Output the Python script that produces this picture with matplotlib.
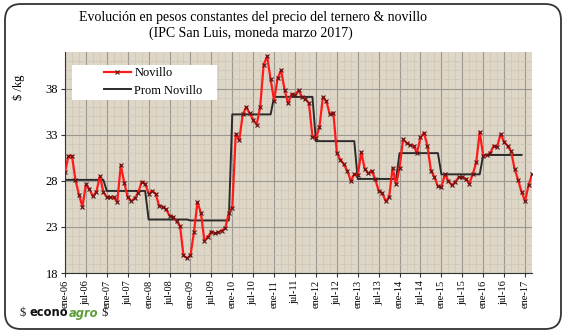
import numpy as np
import matplotlib
matplotlib.use("Agg")
import matplotlib.pyplot as plt
from matplotlib.patches import FancyBboxPatch, Rectangle

# precio mensual del novillo ($/kg, moneda marzo 2017), ene-06 .. mar-17
novillo = [28.9, 30.7, 30.7, 28.1, 26.5, 25.2, 27.6, 27.1, 26.3, 26.8, 28.5, 26.8,
           26.2, 26.2, 26.2, 25.7, 29.7, 27.8, 26.2, 25.8, 26.1, 26.7, 27.9, 27.7,
           26.6, 26.9, 26.6, 25.3, 25.2, 24.9, 24.2, 24.1, 23.6, 23.1, 19.9, 19.6,
           19.9, 22.4, 25.7, 24.5, 21.5, 21.9, 22.5, 22.3, 22.4, 22.6, 22.9, 24.5,
           25.1, 33.1, 32.4, 35.2, 36.0, 35.3, 34.6, 34.1, 36.0, 40.6, 41.5, 39.0,
           36.7, 39.1, 40.0, 37.9, 36.4, 37.4, 37.3, 37.8, 37.1, 36.9, 36.4, 32.8,
           32.6, 33.8, 37.1, 36.6, 35.2, 35.4, 31.0, 30.3, 29.8, 29.1, 28.0, 28.7,
           28.6, 31.1, 29.3, 28.8, 29.1, 28.2, 26.9, 26.7, 25.8, 26.2, 29.4, 27.6,
           29.4, 32.5, 32.1, 31.9, 31.8, 31.0, 32.7, 33.2, 31.8, 29.1, 28.4, 27.4,
           27.3, 28.7, 28.0, 27.5, 27.9, 28.4, 28.4, 28.2, 27.7, 28.7, 30.0, 33.3,
           30.7, 30.8, 31.0, 31.8, 31.7, 33.1, 32.2, 31.8, 31.2, 29.3, 28.1, 26.8,
           25.8, 27.5, 28.7]

# promedio anual 2006..2016
prom_anual = [28.1, 26.9, 23.8, 23.7, 35.2, 37.1, 32.3, 28.2, 31.0, 28.7, 30.8]

anios = list(range(6, 18))
etiquetas = []
for a in anios:
    etiquetas += [f"ene-{a:02d}", f"jul-{a:02d}"]
etiquetas = etiquetas[:-1]

meses = np.arange(len(novillo))
prom = np.repeat(prom_anual, 12)
meses_prom = np.arange(len(prom))

W, H = 566, 335
fig = plt.figure(figsize=(W / 100, H / 100), dpi=100)
fig.patch.set_facecolor("white")

marco = FancyBboxPatch((5, 6), 556, 325, boxstyle="round,pad=0,rounding_size=16",
                       transform=None, fill=False, edgecolor="#333333", linewidth=1.3)
fig.patches.append(marco)

fuente = "Liberation Serif"
fig.text(253 / W, 1 - 17 / H, "Evolución en pesos constantes del precio del ternero & novillo",
         ha="center", va="center", fontsize=10, family=fuente)
fig.text(251 / W, 1 - 33 / H, "(IPC San Luis, moneda marzo 2017)",
         ha="center", va="center", fontsize=10, family=fuente)

ax = fig.add_axes([65 / W, 1 - 273 / H, (532 - 65) / W, (273 - 51.7) / H])
ax.set_facecolor("#DED7C8")

ax.set_xlim(0, 134)
ax.set_ylim(18, 42)
ax.set_yticks([18, 23, 28, 33, 38])
ax.set_xticks(np.arange(0, 133, 6))
ax.set_xticklabels(etiquetas, rotation=90, fontsize=7.5, family=fuente)
for t in ax.get_yticklabels():
    t.set_family(fuente)
    t.set_fontsize(9)

ax.set_xticks(np.arange(0, 134, 2), minor=True)
ax.set_yticks(np.arange(18, 42, 1), minor=True)
ax.grid(True, which="major", color="#9A9890", linewidth=0.8)
ax.grid(True, which="minor", color="#CDC6B6", linewidth=0.5)
ax.tick_params(which="minor", length=0)
ax.tick_params(which="major", length=3, width=0.8, color="#333333", pad=2)
ax.set_axisbelow(True)

for s in ["top", "right"]:
    ax.spines[s].set_visible(False)
for s in ["left", "bottom"]:
    ax.spines[s].set_color("#333333")
    ax.spines[s].set_linewidth(0.8)

ax.plot(meses, novillo, color="#FF1A1A", linewidth=1.6, marker="x", markersize=3.5,
        markeredgecolor="#5A1010", markeredgewidth=0.8, label="Novillo", zorder=3)
ax.plot(meses_prom, prom, color="#2B2B2B", linewidth=1.4, label="Prom Novillo", zorder=2)

ax.set_ylabel("$ /kg", family=fuente, fontsize=9)
ax.yaxis.set_label_coords(-0.085, 0.84)

# caja blanca de la leyenda
caja = Rectangle((72, H - 100), 145, 35, transform=None, facecolor="white",
                 edgecolor="none", zorder=4, clip_on=False)
ax.add_patch(caja)
leg = ax.legend(loc="center left", bbox_to_anchor=(98 / W, 1 - 82 / H),
                bbox_transform=fig.transFigure, frameon=False,
                prop={"family": fuente, "size": 9}, handlelength=2.1,
                handletextpad=0.3, borderpad=0, labelspacing=0.45)
leg.set_zorder(5)

# logo: cada parte a continuacion de la anterior
renderer = fig.canvas.get_renderer()
partes = [("$ ", dict(family=fuente, fontsize=9, color="#222222")),
          ("econo", dict(family="DejaVu Sans", fontweight="bold", fontsize=8.3, color="#111111")),
          ("agro", dict(family="DejaVu Sans", fontweight="bold", style="italic",
                        fontsize=8.3, color="#5C9E3A")),
          (" $", dict(family=fuente, fontsize=9, color="#222222"))]
xpos = 20
for txt, kw in partes:
    t = fig.text(xpos / W, 1 - 313 / H, txt, va="center", **kw)
    xpos = t.get_window_extent(renderer).x1 + 0.5

fig.savefig("out.png", dpi=100)
